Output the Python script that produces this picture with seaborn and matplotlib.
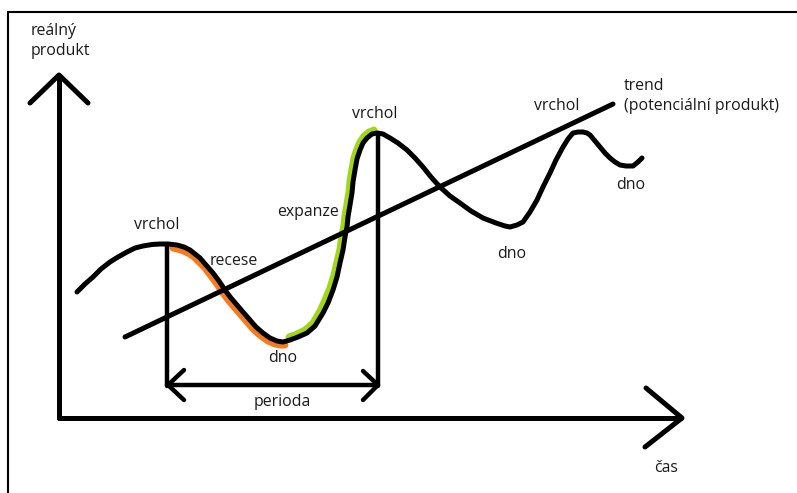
import matplotlib
matplotlib.use("Agg")
import matplotlib.pyplot as plt
import seaborn as sns

sns.set_theme(style="white")
plt.rcParams['font.family'] = ['Open Sans', 'DejaVu Sans']

# ---- data (pixel-space coordinates of the hand-drawn diagram) ----
cycle_x = [77, 85, 93, 101, 110, 118, 127, 135, 143, 152, 160, 168, 177, 184, 190, 195,
           200, 206, 213, 219, 225, 231, 237, 243, 250, 256, 263, 270, 277, 283, 290,
           298, 307, 315, 323, 328, 333, 337, 340, 343, 345, 347, 348, 350, 352, 353,
           355, 357, 360, 363, 367, 372, 377, 383, 390, 398, 407, 415, 423, 431, 440,
           450, 460, 471, 483, 496, 505, 510, 517, 523, 530, 537, 543, 550, 556, 563,
           568, 573, 578, 583, 587, 590, 595, 600, 605, 610, 615, 620, 626, 633, 638, 642]
cycle_y = [292, 284, 277, 269, 262, 257, 252, 248, 246, 244.5, 244, 244, 245, 247, 250, 254,
           258, 265, 273, 281, 290, 298, 305, 312, 320, 327, 333, 338, 341, 342, 340,
           337, 333, 326, 313, 303, 290, 277, 263, 250, 237, 227, 217, 205, 193, 182,
           170, 159, 150, 143, 138, 134, 133, 134, 138, 143, 150, 158, 167, 177, 187,
           196, 203, 211, 218, 223, 226, 227, 225, 222, 212, 200, 187, 173, 160, 147,
           139, 133, 132, 132, 133, 135, 141, 147, 153, 158, 162, 165, 166, 166, 162, 158]

recession_x = [173, 181, 188, 194, 199, 205, 211, 217, 223, 229, 235, 241, 248, 254,
               261, 268, 275, 281, 285]
recession_y = [248, 250, 253, 257, 262, 268, 276, 284, 293, 301, 308, 315, 323, 330,
               336, 341, 344, 345, 345]

expansion_x = [289, 297, 305, 313, 320, 325, 330, 334, 337, 340, 342, 344, 345, 347,
               349, 350, 352, 354, 357, 360, 364, 369, 374]
expansion_y = [337, 334, 330, 323, 311, 300, 288, 275, 262, 249, 236, 225, 216, 204,
               192, 181, 169, 158, 149, 142, 136, 132, 130]

trend_x = [125, 613]
trend_y = [337, 104]

labels = ["reálný\nprodukt", "vrchol", "recese", "dno", "expanze", "vrchol",
          "dno", "vrchol", "trend\n(potenciální produkt)", "dno", "perioda", "čas"]
label_x = [31, 157, 234, 283, 308, 375, 512, 557, 624, 631, 282, 666]
label_y = [41, 225, 261, 358, 212, 114, 254, 106, 96, 185, 402, 468]
label_ha = ["left", "center", "center", "center", "center", "center",
            "center", "center", "left", "center", "center", "center"]

fig = plt.figure(figsize=(7.97, 4.93), dpi=100)
ax = fig.add_axes([0, 0, 1, 1])
ax.set_xlim(0, 797)
ax.set_ylim(493, 0)
ax.axis('off')

lw = 3.6
style = dict(solid_capstyle='round', solid_joinstyle='round')

# frame (top and left border of the screenshot)
ax.plot([8, 797], [12, 12], color='black', lw=1.5)
ax.plot([8, 8], [12, 493], color='black', lw=1.5)

# axes with arrows
ax.plot([59, 59], [76, 418], color='black', lw=lw, **style)
ax.plot([30, 59, 88], [103, 75, 103], color='black', lw=lw, **style)
ax.plot([59, 681], [418, 418], color='black', lw=lw, **style)
ax.plot([646, 682, 645], [388, 418, 447], color='black', lw=lw, **style)

# coloured phases
sns.lineplot(x=recession_x, y=recession_y, color='#f47b20', lw=5.0, sort=False,
             estimator=None, ax=ax, **style)
sns.lineplot(x=expansion_x, y=expansion_y, color='#a2d51c', lw=5.0, sort=False,
             estimator=None, ax=ax, **style)

# trend line
sns.lineplot(x=trend_x, y=trend_y, color='black', lw=lw, sort=False,
             estimator=None, ax=ax, **style)

# business cycle
sns.lineplot(x=cycle_x, y=cycle_y, color='black', lw=lw, sort=False,
             estimator=None, ax=ax, **style)

# period markers
ax.plot([167, 167], [245, 386], color='black', lw=3.2, **style)
ax.plot([378, 378], [133, 386], color='black', lw=3.2, **style)
ax.plot([167, 378], [385, 385], color='black', lw=3.2, **style)
ax.plot([184, 168, 184], [370, 385, 400], color='black', lw=3.2, **style)
ax.plot([363, 378, 363], [371, 385, 400], color='black', lw=3.2, **style)

for t, x, y, ha in zip(labels, label_x, label_y, label_ha):
    ax.text(x, y, t, ha=ha, va='center', fontsize=11.4, color='#1a1a1a',
            linespacing=1.4)

fig.savefig("out.png", dpi=100)
